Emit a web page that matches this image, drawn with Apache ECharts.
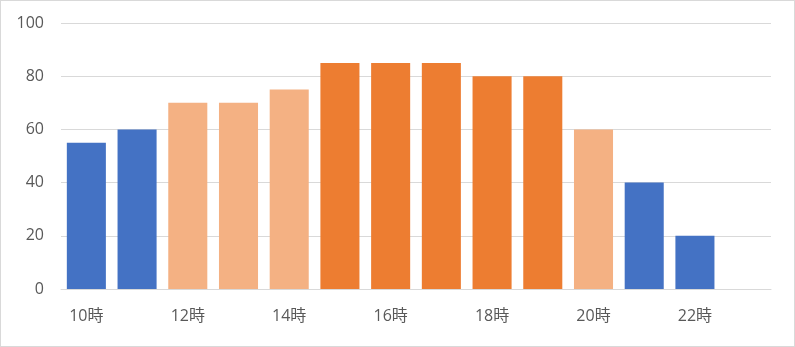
<!DOCTYPE html>
<html><head><meta charset="utf-8">
<script src="https://cdn.jsdelivr.net/npm/echarts@6/dist/echarts.min.js"></script>
<style>
html,body{margin:0;padding:0;background:#fff;}
#c{width:795px;height:347px;box-sizing:border-box;border:1px solid #d9d9d9;}
</style></head><body>
<div id="c"></div>
<script>
const categories = ['10時','11時','12時','13時','14時','15時','16時','17時','18時','19時','20時','21時','22時','23時'];
const values = [55, 60, 70, 70, 75, 85, 85, 85, 80, 80, 60, 40, 20, null];
const levels = ['low','low','mid','mid','mid','high','high','high','high','high','mid','low','low','low'];
const yTicks = [0, 20, 40, 60, 80, 100];

const levelColors = { low: '#4472C4', mid: '#F4B183', high: '#ED7D31' };
const font = '"Open Sans", "Noto Sans CJK JP", sans-serif';

const chart = echarts.init(document.getElementById('c'), null, { renderer: 'canvas' });
chart.setOption({
  animation: false,
  grid: { left: 60, right: 23, top: 22, bottom: 57, containLabel: false },
  xAxis: {
    type: 'category',
    data: categories,
    axisTick: { show: false },
    axisLine: { lineStyle: { color: '#D9D9D9', width: 1 } },
    axisLabel: { interval: 1, color: '#595959', fontSize: 16, fontFamily: font, margin: 19 }
  },
  yAxis: {
    type: 'value',
    min: yTicks[0], max: yTicks[yTicks.length - 1], interval: 20,
    axisLine: { show: false },
    axisTick: { show: false },
    splitLine: { lineStyle: { color: '#D9D9D9', width: 1 } },
    axisLabel: { color: '#595959', fontSize: 16, fontFamily: font, margin: 17 }
  },
  series: [{
    type: 'bar',
    barWidth: '77%',
    data: values.map((v, i) => ({ value: v, itemStyle: { color: levelColors[levels[i]] } }))
  }]
});
</script>
</body></html>
